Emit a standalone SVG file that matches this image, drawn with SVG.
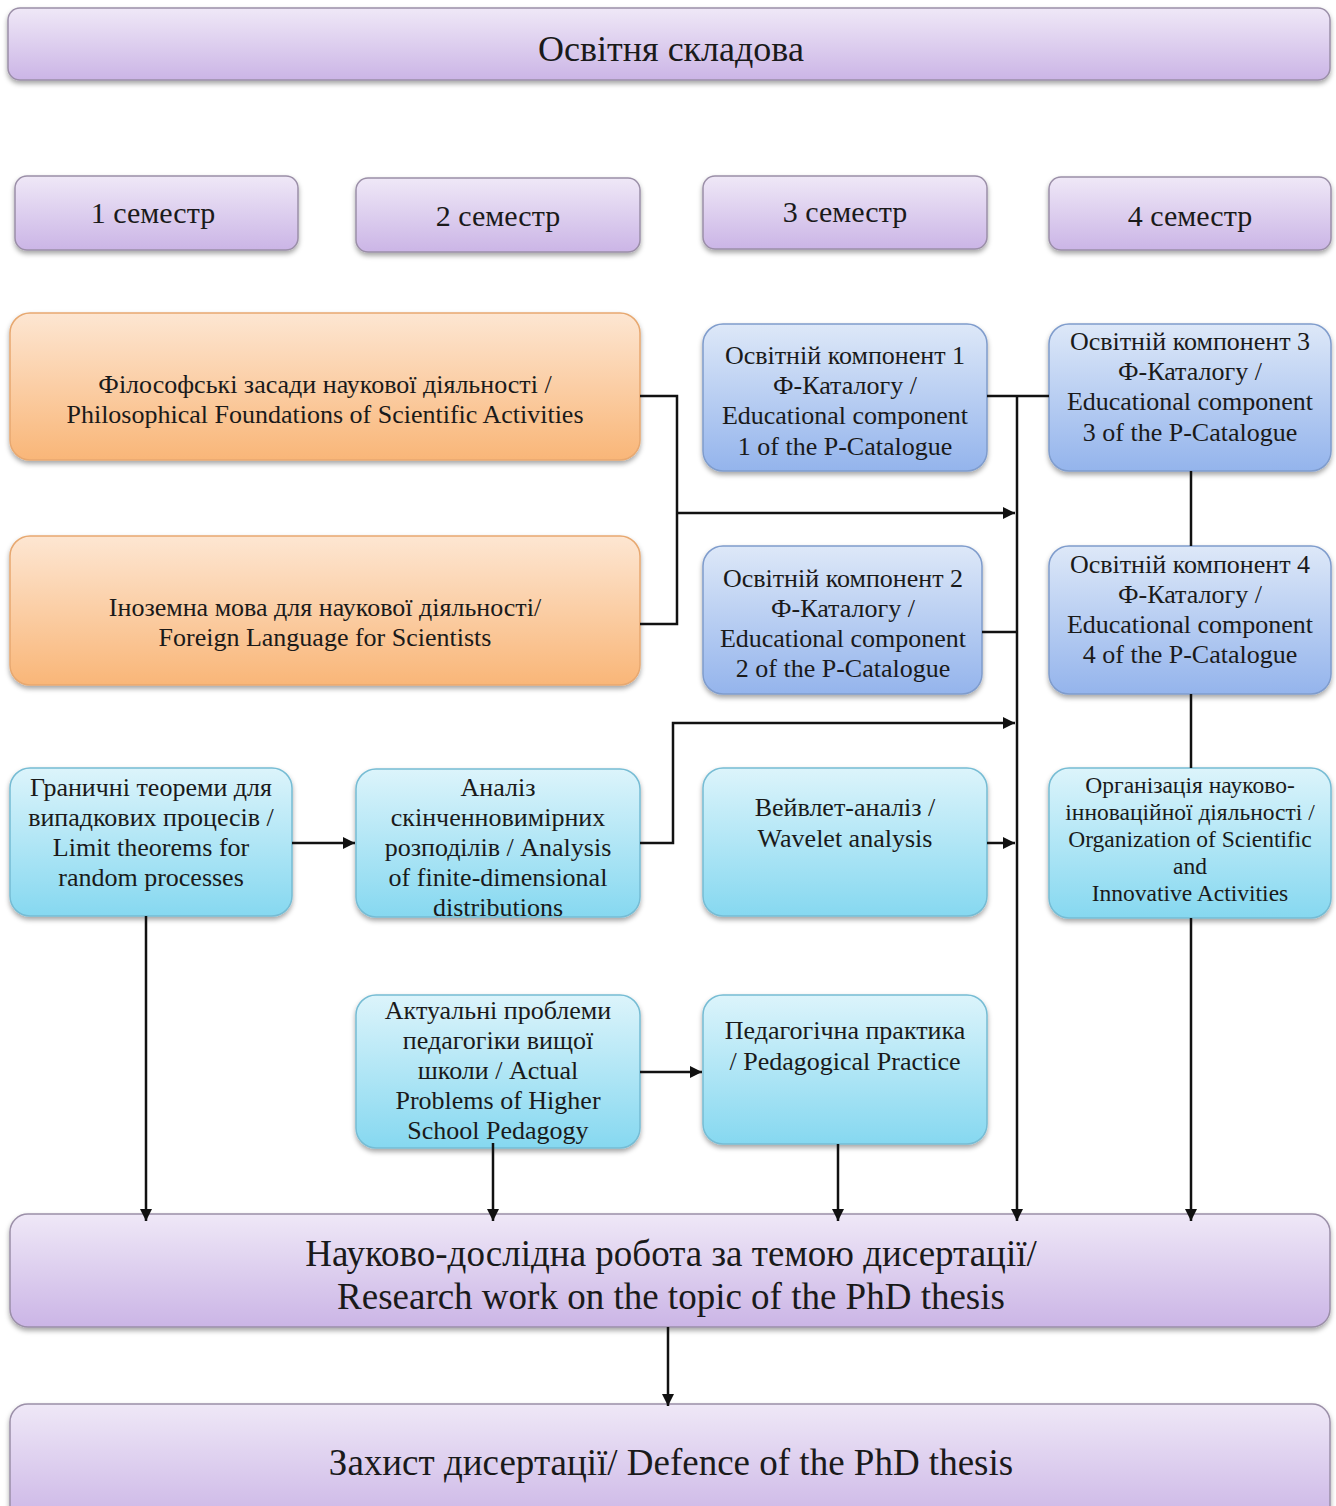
<svg xmlns="http://www.w3.org/2000/svg" width="1336" height="1506" viewBox="0 0 1336 1506">
<defs>
<linearGradient id="gPurple" x1="0" y1="0" x2="0" y2="1"><stop offset="0" stop-color="#efe8f7"/><stop offset="1" stop-color="#cbb5e6"/></linearGradient>
<linearGradient id="gOrange" x1="0" y1="0" x2="0" y2="1"><stop offset="0" stop-color="#fde6d2"/><stop offset="1" stop-color="#f9b678"/></linearGradient>
<linearGradient id="gBlue" x1="0" y1="0" x2="0" y2="1"><stop offset="0" stop-color="#dde8f8"/><stop offset="1" stop-color="#94b4ec"/></linearGradient>
<linearGradient id="gCyan" x1="0" y1="0" x2="0" y2="1"><stop offset="0" stop-color="#dcf4fb"/><stop offset="1" stop-color="#86d8f0"/></linearGradient>
<filter id="sh" x="-5%" y="-10%" width="110%" height="130%"><feDropShadow dx="0" dy="3" stdDeviation="2.5" flood-color="#000" flood-opacity="0.35"/></filter>
<marker id="arr" viewBox="0 0 10 10" refX="10" refY="5" markerWidth="5" markerHeight="5" markerUnits="strokeWidth" orient="auto"><path d="M0,0 L10,5 L0,10 z" fill="#111"/></marker>
</defs>
<style>
.p{fill:url(#gPurple);stroke:#9b8fa8;stroke-width:1.5;filter:url(#sh)}
.o{fill:url(#gOrange);stroke:#e7a870;stroke-width:1.5;filter:url(#sh)}
.b{fill:url(#gBlue);stroke:#7f9ccc;stroke-width:1.5;filter:url(#sh)}
.c{fill:url(#gCyan);stroke:#76bcd4;stroke-width:1.5;filter:url(#sh)}
text{font-family:"Liberation Serif","Times New Roman",serif;fill:#1a1a1a;text-anchor:middle}
.t24{font-size:26px}
.t22{font-size:26px}
.t20{font-size:23.5px}
.t26{font-size:30px}
.t30{font-size:36px}
.t34{font-size:37px}
.ln{fill:none;stroke:#111;stroke-width:2.5}
.la{fill:none;stroke:#111;stroke-width:2.5;marker-end:url(#arr)}
</style>

<g id="header"><rect class="p" x="8" y="8" width="1322" height="72" rx="12"/><text class="t30" x="671" y="61">Освітня складова</text></g>

<g id="sem1"><rect class="p" x="15" y="176" width="283" height="74" rx="12"/><text class="t26" x="153" y="223">1 семестр</text></g>
<g id="sem2"><rect class="p" x="356" y="178" width="284" height="74" rx="12"/><text class="t26" x="498" y="226">2 семестр</text></g>
<g id="sem3"><rect class="p" x="703" y="176" width="284" height="73" rx="12"/><text class="t26" x="845" y="222">3 семестр</text></g>
<g id="sem4"><rect class="p" x="1049" y="177" width="282" height="73" rx="12"/><text class="t26" x="1190" y="226">4 семестр</text></g>

<g id="phil"><rect class="o" x="10" y="313" width="630" height="147" rx="20"/>
<text class="t22" x="325" y="393">Філософські засади наукової діяльності /</text>
<text class="t22" x="325" y="423">Philosophical Foundations of Scientific Activities</text></g>

<g id="lang"><rect class="o" x="10" y="536" width="630" height="149" rx="20"/>
<text class="t22" x="325" y="616">Іноземна мова для наукової діяльності/</text>
<text class="t22" x="325" y="646">Foreign Language for Scientists</text></g>

<g id="ok1"><rect class="b" x="703" y="324" width="284" height="147" rx="20"/>
<text class="t24" x="845" y="364">Освітній компонент 1</text>
<text class="t24" x="845" y="394">Ф-Каталогу /</text>
<text class="t24" x="845" y="424">Educational component</text>
<text class="t24" x="845" y="455">1 of the P-Catalogue</text></g>

<g id="ok3"><rect class="b" x="1049" y="324" width="282" height="147" rx="20"/>
<text class="t24" x="1190" y="350">Освітній компонент 3</text>
<text class="t24" x="1190" y="380">Ф-Каталогу /</text>
<text class="t24" x="1190" y="410">Educational component</text>
<text class="t24" x="1190" y="441">3 of the P-Catalogue</text></g>

<g id="ok2"><rect class="b" x="703" y="546" width="279" height="148" rx="20"/>
<text class="t24" x="843" y="587">Освітній компонент 2</text>
<text class="t24" x="843" y="617">Ф-Каталогу /</text>
<text class="t24" x="843" y="647">Educational component</text>
<text class="t24" x="843" y="677">2 of the P-Catalogue</text></g>

<g id="ok4"><rect class="b" x="1049" y="546" width="282" height="148" rx="20"/>
<text class="t24" x="1190" y="573">Освітній компонент 4</text>
<text class="t24" x="1190" y="603">Ф-Каталогу /</text>
<text class="t24" x="1190" y="633">Educational component</text>
<text class="t24" x="1190" y="663">4 of the P-Catalogue</text></g>

<g id="limit"><rect class="c" x="10" y="768" width="282" height="148" rx="20"/>
<text class="t24" x="151" y="796">Граничні теореми для</text>
<text class="t24" x="151" y="826">випадкових процесів /</text>
<text class="t24" x="151" y="856">Limit theorems for</text>
<text class="t24" x="151" y="886">random processes</text></g>

<g id="analysis"><rect class="c" x="356" y="769" width="284" height="148" rx="20"/>
<text class="t24" x="498" y="796">Аналіз</text>
<text class="t24" x="498" y="826">скінченновимірних</text>
<text class="t24" x="498" y="856">розподілів / Analysis</text>
<text class="t24" x="498" y="886">of finite-dimensional</text>
<text class="t24" x="498" y="916">distributions</text></g>

<g id="wavelet"><rect class="c" x="703" y="768" width="284" height="148" rx="20"/>
<text class="t24" x="845" y="816">Вейвлет-аналіз /</text>
<text class="t24" x="845" y="847">Wavelet analysis</text></g>

<g id="org"><rect class="c" x="1049" y="768" width="282" height="150" rx="20"/>
<text class="t20" x="1190" y="793">Організація науково-</text>
<text class="t20" x="1190" y="820">інноваційної діяльності /</text>
<text class="t20" x="1190" y="847">Organization of Scientific</text>
<text class="t20" x="1190" y="874">and</text>
<text class="t20" x="1190" y="901">Innovative Activities</text></g>

<g id="actual"><rect class="c" x="356" y="995" width="284" height="153" rx="20"/>
<text class="t24" x="498" y="1019">Актуальні проблеми</text>
<text class="t24" x="498" y="1049">педагогіки вищої</text>
<text class="t24" x="498" y="1079">школи / Actual</text>
<text class="t24" x="498" y="1109">Problems of Higher</text>
<text class="t24" x="498" y="1139">School Pedagogy</text></g>

<g id="practice"><rect class="c" x="703" y="995" width="284" height="149" rx="20"/>
<text class="t24" x="845" y="1039">Педагогічна практика</text>
<text class="t24" x="845" y="1070">/ Pedagogical Practice</text></g>

<g id="research"><rect class="p" x="10" y="1214" width="1320" height="113" rx="18"/>
<text class="t34" x="671" y="1266">Науково-дослідна робота за темою дисертації/</text>
<text class="t34" x="671" y="1309">Research work on the topic of the PhD thesis</text></g>

<g id="defence"><rect class="p" x="10" y="1404" width="1320" height="120" rx="18"/>
<text class="t34" x="671" y="1475">Захист дисертації/ Defence of the PhD thesis</text></g>

<g id="connectors">
<path class="ln" d="M640,396 H677 V624 H640"/>
<path class="la" d="M677,513 H1015"/>
<path class="la" d="M1017,396 V1221"/>
<path class="ln" d="M987,396 H1049"/>
<path class="ln" d="M982,632 H1017"/>
<path class="ln" d="M1191,471 V546"/>
<path class="ln" d="M1191,694 V768"/>
<path class="la" d="M1191,918 V1221"/>
<path class="la" d="M640,843 H673 V723 H1015"/>
<path class="la" d="M987,843 H1015"/>
<path class="la" d="M292,843 H355"/>
<path class="la" d="M146,916 V1221"/>
<path class="la" d="M493,1143 V1221"/>
<path class="la" d="M640,1072 H702"/>
<path class="la" d="M838,1144 V1221"/>
<path class="la" d="M668,1327 V1406"/>
</g>
</svg>
